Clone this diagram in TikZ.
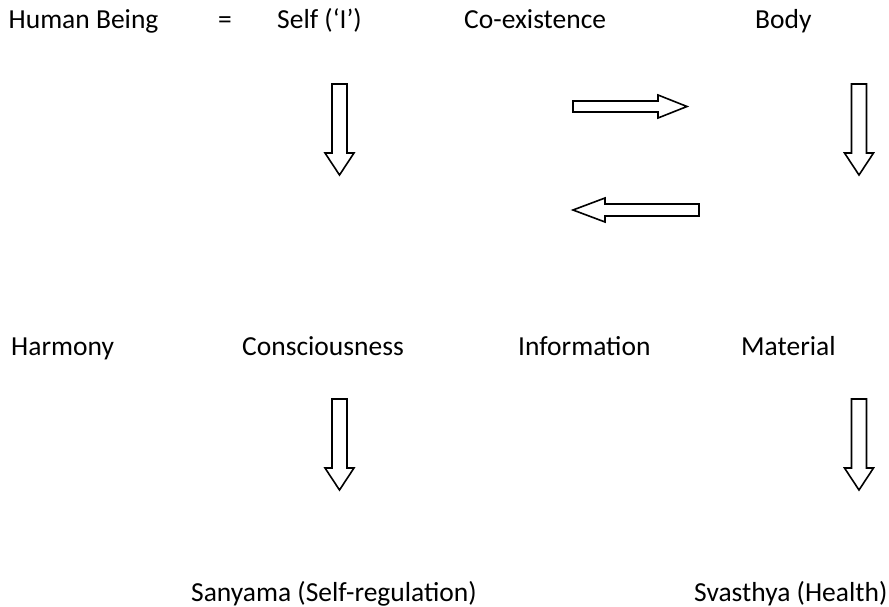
\documentclass[tikz,border=0pt]{standalone}
\usepackage{fontspec}
\setmainfont{Carlito}
\tikzset{
    label/.style={anchor=base west, inner sep=0pt, font=\fontsize{27.5}{33}\selectfont},
    blockarrow/.style={draw=black, line width=1.6pt, fill=white, line join=miter}
}
\begin{document}
\begin{tikzpicture}[x=1pt, y=-1pt]
    \useasboundingbox (0,0) rectangle (889,607);
    % top row
    \node[label] (human) at (8.5,29) {Human Being};
    \node[label] (equals) at (218,29) {=};
    \node[label] (self) at (277,29) {Self (`I')};
    \node[label] (coexist) at (464,29) {Co-existence};
    \node[label] (body) at (755,29) {Body};
    % middle row
    \node[label] (harmony) at (11,355) {Harmony};
    \node[label] (conscious) at (242,355) {Consciousness};
    \node[label] (info) at (518,355) {Information};
    \node[label] (material) at (741,355) {Material};
    % bottom row
    \node[label] (sanyama) at (191,601) {Sanyama (Self-regulation)};
    \node[label] (svasthya) at (694,601) {Svasthya (Health)};
    % down arrows
    \foreach \cx/\ty in {339.5/84, 859/84, 339.5/399, 859/399} {
            \draw[blockarrow] (\cx-7.5,\ty) -- (\cx+7.5,\ty) -- (\cx+7.5,\ty+69) -- (\cx+14.5,\ty+69)
                -- (\cx,\ty+91) -- (\cx-14.5,\ty+69) -- (\cx-7.5,\ty+69) -- cycle;
        }
    % sideways arrows
    \draw[blockarrow] (573,101) -- (658,101) -- (658,95) -- (687,106.5) -- (658,118) -- (658,112) -- (573,112) -- cycle;
    \draw[blockarrow] (699,204) -- (605,204) -- (605,198) -- (573,210) -- (605,222) -- (605,216) -- (699,216) -- cycle;
\end{tikzpicture}
\end{document}
